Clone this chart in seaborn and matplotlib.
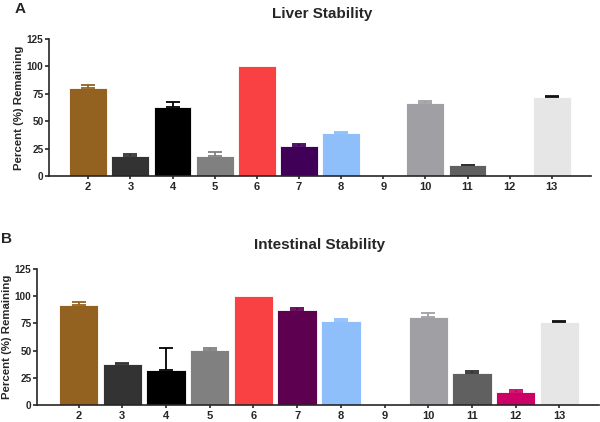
import seaborn as sns
import matplotlib.pyplot as plt
import pandas as pd
import numpy as np

compounds = ['2', '3', '4', '5', '6', '7', '8', '9', '10', '11', '12', '13']

liver_mean = [80.6, 18.5, 63.2, 18.5, 100.0, 27.4, 39.5, 0.0, 66.6, 9.7, 0.0, 71.8]
liver_err = [2.1, 1.3, 4.6, 3.1, 0.0, 1.5, 0.8, 0.0, 1.8, 0.2, 0.0, 1.2]

intestinal_mean = [91.5, 37.5, 32.6, 50.3, 100.0, 87.2, 76.8, 0.0, 81.1, 29.6, 11.6, 75.9]
intestinal_err = [2.7, 1.2, 19.5, 1.8, 0.0, 1.8, 2.5, 0.0, 3.9, 1.5, 1.8, 1.5]

colors_liver = ['#946220', '#333333', '#000000', '#808080', '#F94144', '#400058',
                '#8FBFFA', '#FFFFFF', '#A0A0A4', '#606060', '#CC0066', '#E6E6E6']
colors_int = ['#946220', '#333333', '#000000', '#808080', '#F94144', '#5E0050',
              '#8FBFFA', '#FFFFFF', '#A0A0A4', '#606060', '#CC0066', '#E6E6E6']
err_colors = ['#946220', '#333333', '#000000', '#808080', '#F94144', None,
              '#8FBFFA', '#FFFFFF', '#A0A0A4', '#303030', '#CC0066', '#111111']

sns.set_style('ticks')
plt.rcParams['font.family'] = ['Liberation Sans', 'DejaVu Sans']
plt.rcParams['font.weight'] = 'bold'

fig = plt.figure(figsize=(6, 4.22), dpi=100)
ax_a = fig.add_axes([0.0817, 0.583, 0.9033, 0.3246])
ax_b = fig.add_axes([0.0617, 0.0403, 0.9363, 0.3223])


def draw_panel(ax, means, errs, pal, xlim):
    df = pd.DataFrame({'compound': compounds, 'value': means})
    sns.barplot(data=df, x='compound', y='value', hue='compound', order=compounds,
                palette=pal, width=0.9, legend=False, ax=ax, saturation=1,
                edgecolor='white', linewidth=0.6)
    for i, (m, e) in enumerate(zip(means, errs)):
        if e <= 0:
            continue
        c = err_colors[i] or pal[i]
        ax.errorbar(i, m, yerr=[[0], [e]], fmt='none', ecolor=c,
                    elinewidth=1.3, capsize=5, capthick=1.3)
    ax.set_ylim(0, 125)
    ax.set_xlim(*xlim)
    ax.set_yticks([0, 25, 50, 75, 100, 125])
    ax.set_xlabel('')
    ax.set_ylabel('Percent (%) Remaining', fontsize=8.2, fontweight='bold', labelpad=2)
    ax.tick_params(axis='y', labelsize=7.2, width=1.2, length=3, pad=1)
    ax.tick_params(axis='x', labelsize=8, width=1.2, length=2.5, pad=2)
    for lbl in ax.get_xticklabels() + ax.get_yticklabels():
        lbl.set_fontweight('bold')
    sns.despine(ax=ax)
    ax.spines['left'].set_linewidth(1.2)
    ax.spines['bottom'].set_linewidth(1.2)


draw_panel(ax_a, liver_mean, liver_err, colors_liver, (-0.93, 11.93))
draw_panel(ax_b, intestinal_mean, intestinal_err, colors_int, (-0.95, 11.9))

fig.text(0.537, 0.967, 'Liver Stability', fontsize=11, fontweight='bold', ha='center', va='center')
fig.text(0.533, 0.419, 'Intestinal Stability', fontsize=11, fontweight='bold', ha='center', va='center')

fig.text(0.024, 0.978, 'A', fontsize=11, fontweight='bold', va='center', ha='left')
fig.text(0.002, 0.434, 'B', fontsize=11, fontweight='bold', va='center', ha='left')

fig.savefig('out.png', dpi=100)
